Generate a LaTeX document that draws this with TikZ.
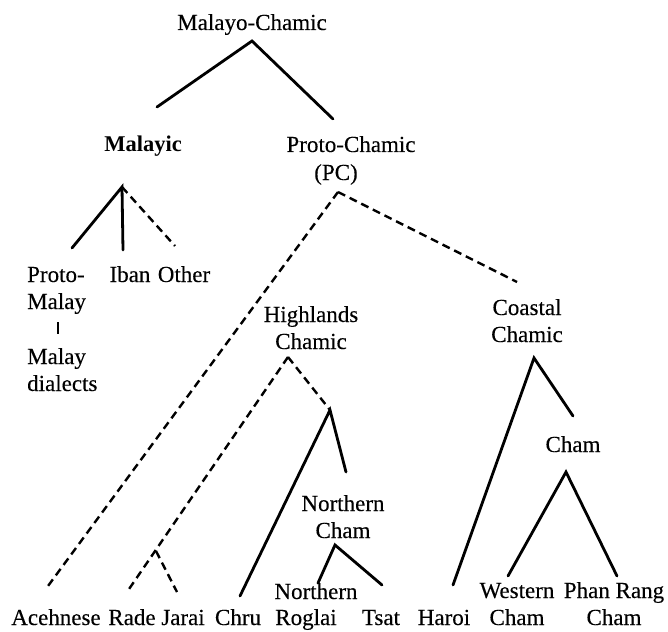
\documentclass[tikz,border=0pt]{standalone}
\usepackage{fontspec}
\setmainfont{Liberation Serif}
\newfontfamily\scanfont[FakeBold=0.2]{Liberation Serif}
\begin{document}
\begin{tikzpicture}[x=1pt,y=-1pt,
  lbl/.style={font=\scanfont\fontsize{23}{27}\selectfont, inner sep=0pt, anchor=base},
  lbll/.style={lbl, align=left},
  lblc/.style={lbl, align=center},
  branch/.style={line width=2.8pt, line cap=round},
  dbranch/.style={line width=2.4pt, dash pattern=on 8pt off 5pt},
  bar/.style={line width=1.3pt}]
\useasboundingbox (0,0) rectangle (668,631);

% labels (multi-line nodes: base = baseline of last line)
\node[lbl] (mc) at (252,30) {Malayo-Chamic};
\node[lbl, font=\rmfamily\fontsize{22.5}{26}\selectfont\bfseries] (malayic) at (143,152) {Malayic};
\node[lbl] (pc) at (351,152) {Proto-Chamic};
\node[lbl] (pcab) at (336,180) {(PC)};
\node[lbll, anchor=base west] (pm) at (27,309) {Proto-\\Malay};
\node[lbl] (iban) at (130,282) {Iban};
\node[lbl] (other) at (184,282) {Other};
\node[lbll, anchor=base west] (md) at (27,391) {Malay\\dialects};
\node[lblc] (hc) at (311,349) {Highlands\\Chamic};
\node[lblc] (cc) at (527,342) {Coastal\\Chamic};
\node[lbl] (cham) at (573,452) {Cham};
\node[lblc] (nc) at (343,538) {Northern\\Cham};
\node[lbl] (ace) at (56,625) {Acehnese};
\node[lbl] (rade) at (132,625) {Rade};
\node[lbl] (jarai) at (183,625) {Jarai};
\node[lbl] (chru) at (238,625) {Chru};
\node[lbl] (nrog) at (316,599) {Northern};
\node[lbl] (roglai) at (306,625) {Roglai};
\node[lbl] (tsat) at (381,625) {Tsat};
\node[lbl] (haroi) at (444,625) {Haroi};
\node[lblc] (wcham) at (517,625) {Western\\Cham};
\node[lblc] (prcham) at (614,625) {Phan Rang\\Cham};

% branch points and ends
\coordinate (mcA) at (252,41);
\coordinate (mcL) at (157,107);
\coordinate (mcR) at (333,119);
\coordinate (malA) at (122,187);
\coordinate (malL) at (72,248);
\coordinate (malM) at (123,250);
\coordinate (malR) at (175,246);
\coordinate (pmbarT) at (58,322);
\coordinate (pmbarB) at (58,334);
\coordinate (pcA) at (338,192);
\coordinate (aceT) at (48,586);
\coordinate (ccT) at (517,282);
\coordinate (hcA) at (288,357);
\coordinate (radeT) at (127,592);
\coordinate (jarJ) at (156,551);
\coordinate (jaraiT) at (177,592);
\coordinate (hcR) at (330,410);
\coordinate (chruT) at (240,596);
\coordinate (ncT) at (346,472);
\coordinate (ncA) at (335,545);
\coordinate (rogT) at (318,583);
\coordinate (tsatT) at (382,585);
\coordinate (ccA) at (534,358);
\coordinate (haroiT) at (453,585);
\coordinate (chamT) at (573,416);
\coordinate (chA) at (566,472);
\coordinate (wcT) at (508,576);
\coordinate (prT) at (617,576);

% connectors
\draw[branch] (mcL) -- (mcA) -- (mcR);
\draw[branch] (malL) -- (malA) -- (malM);
\draw[dbranch] (malA) -- (malR);
\draw[bar] (pmbarT) -- (pmbarB);
\draw[dbranch] (pcA) -- (aceT);
\draw[dbranch] (pcA) -- (ccT);
\draw[dbranch] (hcA) -- (radeT);
\draw[dbranch] (jarJ) -- (jaraiT);
\draw[dbranch] (hcA) -- (hcR);
\draw[branch] (chruT) -- (hcR) -- (ncT);
\draw[branch] (rogT) -- (ncA) -- (tsatT);
\draw[branch] (haroiT) -- (ccA) -- (chamT);
\draw[branch] (wcT) -- (chA) -- (prT);
\end{tikzpicture}
\end{document}
